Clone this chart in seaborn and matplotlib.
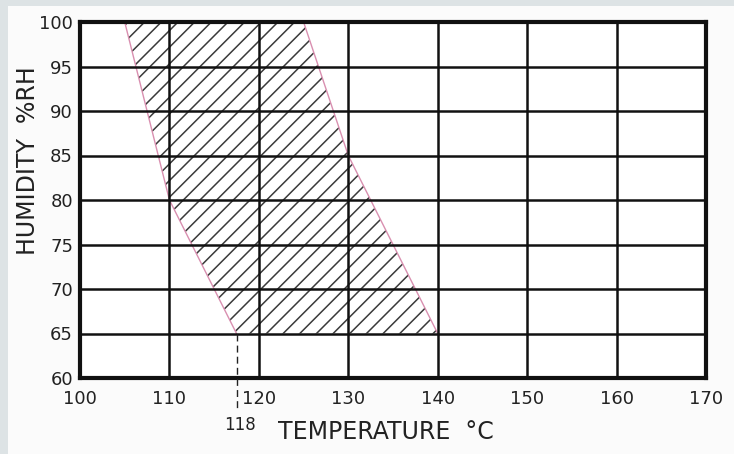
import numpy as np
import matplotlib
matplotlib.use("Agg")
import matplotlib.pyplot as plt
from matplotlib.patches import Rectangle
import seaborn as sns

# Data
temp_ticks = [100, 110, 120, 130, 140, 150, 160, 170]
hum_ticks = [60, 65, 70, 75, 80, 85, 90, 95, 100]
left_temp = [105, 110, 117.5]
left_hum = [100, 80, 65]
right_temp = [125, 130, 140]
right_hum = [100, 85, 65]
marker_temp = 117.5
marker_label = "118"

sns.set_theme(style="white")
plt.rcParams['font.family'] = ['DejaVu Sans']
plt.rcParams['hatch.linewidth'] = 1.1

fig = plt.figure(figsize=(7.34, 4.54), dpi=100, facecolor="#fbfbfb")
fig.patches.append(Rectangle((0, 0), 8 / 734, 1, transform=fig.transFigure,
                             facecolor="#dde3e5", edgecolor="none", zorder=0))
fig.patches.append(Rectangle((0, 1 - 6 / 454), 1, 6 / 454, transform=fig.transFigure,
                             facecolor="#dde3e5", edgecolor="none", zorder=0))

ax = fig.add_axes([80 / 734, 1 - 378 / 454, 626 / 734, 356 / 454])
ax.set_facecolor("white")

# hatched region
poly_x = np.concatenate([left_temp, right_temp[::-1]])
poly_y = np.concatenate([left_hum, right_hum[::-1]])
ax.fill(poly_x, poly_y, facecolor="none", edgecolor="#3a3a3a", hatch="//",
        linewidth=0, zorder=1)

sns.lineplot(x=left_temp, y=left_hum, sort=False, ax=ax, color="#d98fb0",
             linewidth=1.0, zorder=2)
sns.lineplot(x=right_temp, y=right_hum, sort=False, ax=ax, color="#d98fb0",
             linewidth=1.0, zorder=2)

ax.set_xlim(temp_ticks[0], temp_ticks[-1])
ax.set_ylim(hum_ticks[0], hum_ticks[-1])
ax.set_xticks(temp_ticks)
ax.set_yticks(hum_ticks)
ax.set_xticklabels([str(t) for t in temp_ticks], fontsize=13, color="#222222")
ax.set_yticklabels([str(h) for h in hum_ticks], fontsize=13, color="#222222")
ax.tick_params(axis="both", length=0)
ax.tick_params(axis="x", pad=9)
ax.tick_params(axis="y", pad=5)

ax.grid(True, color="#111111", linewidth=1.8, zorder=3)
ax.set_axisbelow(False)
for s in ax.spines.values():
    s.set_visible(True)
    s.set_color("#111111")
    s.set_linewidth(3)

# dashed marker line
ax.plot([marker_temp, marker_temp], [hum_ticks[1], 56.6], color="#222222",
        linewidth=1.0, linestyle=(0, (5, 3)), clip_on=False, zorder=4)
ax.text(117.9, 54.7, marker_label, fontsize=12, color="#222222",
        ha="center", va="center")
ax.text(122.1, 53.9, "TEMPERATURE  °C", fontsize=17, color="#222222",
        ha="left", va="center")

ax.set_ylabel("HUMIDITY  %RH", fontsize=17, color="#222222")
ax.yaxis.set_label_coords(-0.064, 0.61)

fig.savefig("out.png", dpi=100, facecolor=fig.get_facecolor())
